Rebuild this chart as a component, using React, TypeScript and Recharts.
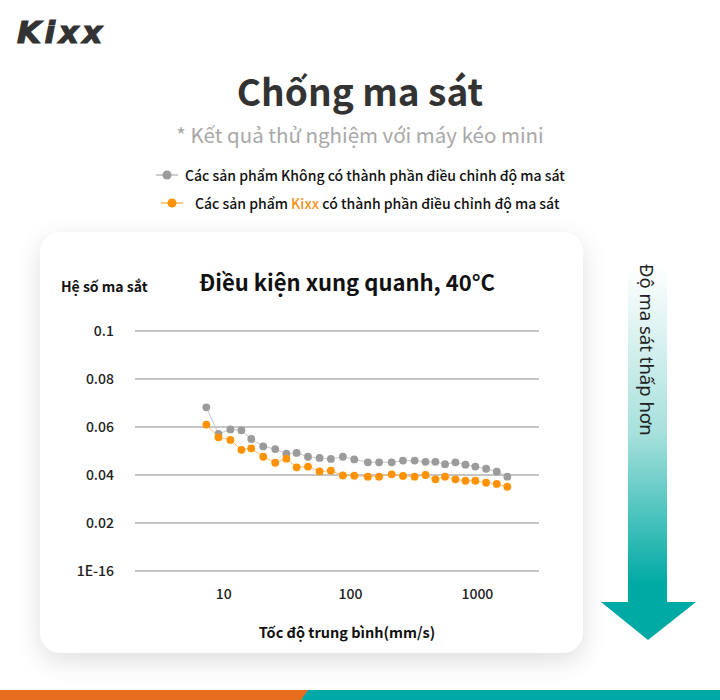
import React from "react";
import { ScatterChart, Scatter, XAxis, YAxis, CartesianGrid } from "recharts";

// average speed (mm/s)
const speeds = [
  7.3, 9.1, 11.3, 13.8, 16.5, 20.5, 25.5, 31.2, 37.6, 46.2, 57, 70, 87, 107,
  137, 168, 211, 259, 320, 390, 467, 556, 671, 805, 964, 1171, 1422, 1722,
];

// friction coefficient, products without friction modifier
const plainFriction = [
  0.0682, 0.0571, 0.059, 0.0586, 0.055, 0.0519, 0.0508, 0.0489, 0.0492, 0.0476,
  0.0471, 0.0467, 0.0476, 0.0465, 0.0453, 0.0453, 0.0453, 0.046, 0.046, 0.0455,
  0.0455, 0.0445, 0.0453, 0.0443, 0.0435, 0.0426, 0.0414, 0.0393,
];

// friction coefficient, Kixx products with friction modifier
const kixxFriction = [
  0.061, 0.0557, 0.0546, 0.0505, 0.0511, 0.0476, 0.0451, 0.0468, 0.0432, 0.0435,
  0.0415, 0.0418, 0.0398, 0.0397, 0.0393, 0.0393, 0.0403, 0.0396, 0.0393, 0.04,
  0.0382, 0.0393, 0.0382, 0.0376, 0.0376, 0.0368, 0.0363, 0.0351,
];

const xTicks = [10, 100, 1000];
const yTicks = [0, 0.02, 0.04, 0.06, 0.08, 0.1];
const yTickLabels = ["1E-16", "0.02", "0.04", "0.06", "0.08", "0.1"];

const GRAY = "#9b9b9b";
const ORANGE = "#ff9200";
const SANS = "'Noto Sans CJK KR', 'Noto Sans', sans-serif";

const plainData = speeds.map((s, i) => ({ x: s, y: plainFriction[i] }));
const kixxData = speeds.map((s, i) => ({ x: s, y: kixxFriction[i] }));

const dot = (color: string) => (p: any) => (
  <circle cx={p.cx} cy={p.cy} r={3.9} fill={color} />
);

function LegendMark({ color, left, top }: { color: string; left: number; top: number }) {
  return (
    <svg width={22} height={12} style={{ position: "absolute", left, top }}>
      <line x1={0} y1={6} x2={22} y2={6} stroke={color} strokeWidth={1} />
      <circle cx={11} cy={6} r={4.5} fill={color} />
    </svg>
  );
}

export default function App() {
  return (
    <div
      style={{
        position: "absolute",
        left: 0,
        top: 0,
        width: 720,
        height: 700,
        background: "#fff",
        overflow: "hidden",
        fontFamily: SANS,
        color: "#222",
      }}
    >
      {/* logo */}
      <div
        style={{
          position: "absolute",
          left: 17,
          top: 14,
          fontFamily: "'DejaVu Sans', sans-serif",
          fontWeight: 700,
          fontStyle: "italic",
          fontSize: 31,
          letterSpacing: 3.5,
          color: "#333",
          WebkitTextStroke: "1.2px #333",
        }}
      >
        Kixx
      </div>

      <div
        style={{
          position: "absolute",
          left: 0,
          width: 720,
          top: 63,
          textAlign: "center",
          fontSize: 37,
          fontWeight: 700,
          color: "#333",
        }}
      >
        Chống ma sát
      </div>
      <div
        style={{
          position: "absolute",
          left: 0,
          width: 720,
          top: 119,
          textAlign: "center",
          fontSize: 20.5,
          color: "#a8a8a8",
        }}
      >
        * Kết quả thử nghiệm với máy kéo mini
      </div>

      {/* legend */}
      <LegendMark color={GRAY} left={156} top={169} />
      <div style={{ position: "absolute", left: 185, top: 165, fontSize: 14, fontWeight: 500, color: "#111" }}>
        Các sản phẩm Không có thành phần điều chỉnh độ ma sát
      </div>
      <LegendMark color={ORANGE} left={161} top={197} />
      <div style={{ position: "absolute", left: 195, top: 193, fontSize: 14, fontWeight: 500, color: "#111" }}>
        Các sản phẩm <span style={{ color: "#f7941d" }}>Kixx</span> có thành phần điều chỉnh độ ma sát
      </div>

      {/* card */}
      <div
        style={{
          position: "absolute",
          left: 40,
          top: 232,
          width: 543,
          height: 421,
          borderRadius: 20,
          background: "#fff",
          boxShadow: "0 8px 26px rgba(0,0,0,0.13)",
        }}
      >
        <div style={{ position: "absolute", left: 21, top: 44, fontSize: 14, fontWeight: 700, color: "#111" }}>
          Hệ số ma sắt
        </div>
        <div
          style={{
            position: "absolute",
            left: 0,
            width: 614,
            top: 33,
            textAlign: "center",
            fontSize: 22,
            fontWeight: 700,
            color: "#111",
          }}
        >
          Điều kiện xung quanh, 40°C
        </div>
        <ScatterChart
          width={543}
          height={421}
          margin={{ top: 99, right: 44, bottom: 42, left: 20 }}
          style={{ position: "absolute", left: 0, top: 0 }}
        >
          <CartesianGrid vertical={false} stroke="#8c8c8c" strokeWidth={1} />
          <XAxis
            dataKey="x"
            type="number"
            scale="log"
            domain={[2, 3060]}
            allowDataOverflow
            ticks={xTicks}
            axisLine={false}
            tickLine={false}
            tickSize={0}
            tickMargin={18}
            height={40}
            tick={{ fill: "#222", fontSize: 14, fontWeight: 500, fontFamily: SANS }}
          />
          <YAxis
            dataKey="y"
            type="number"
            domain={[0, 0.1]}
            ticks={yTicks}
            tickFormatter={(v: number) => yTickLabels[yTicks.indexOf(v)]}
            axisLine={false}
            tickLine={false}
            tickSize={0}
            tickMargin={21}
            width={75}
            tick={{ fill: "#222", fontSize: 14, fontWeight: 500, fontFamily: SANS }}
          />
          <Scatter
            data={plainData}
            line={{ stroke: "#c6c6c6", strokeWidth: 1 }}
            shape={dot(GRAY)}
            isAnimationActive={false}
          />
          <Scatter
            data={kixxData}
            line={{ stroke: "#ffbd70", strokeWidth: 1 }}
            shape={dot(ORANGE)}
            isAnimationActive={false}
          />
        </ScatterChart>
        <div
          style={{
            position: "absolute",
            left: 0,
            width: 614,
            top: 389,
            textAlign: "center",
            fontSize: 14.5,
            fontWeight: 700,
            color: "#111",
          }}
        >
          Tốc độ trung bình(mm/s)
        </div>
      </div>

      {/* arrow */}
      <svg width={720} height={700} style={{ position: "absolute", left: 0, top: 0 }}>
        <defs>
          <linearGradient id="arrowFill" x1="0" y1="0" x2="0" y2="1">
            <stop offset="0" stopColor="#ffffff" />
            <stop offset="0.45" stopColor="#a6e0dc" />
            <stop offset="0.85" stopColor="#00aaa4" />
            <stop offset="1" stopColor="#00aaa4" />
          </linearGradient>
        </defs>
        <polygon
          points="628,266 667,266 667,602 696,602 648,640 601,602 628,602"
          fill="url(#arrowFill)"
        />
        <rect x={0} y={690} width={720} height={10} fill="#00a9a6" />
        <polygon points="0,690 308,690 301,700 0,700" fill="#e86e1f" />
      </svg>
      <div
        style={{
          position: "absolute",
          left: 634,
          top: 264,
          width: 26,
          lineHeight: "26px",
          writingMode: "vertical-rl",
          fontFamily: "'Noto Sans', sans-serif",
          fontSize: 18.5,
          color: "#222",
        }}
      >
        Độ ma sát thấp hơn
      </div>
    </div>
  );
}
